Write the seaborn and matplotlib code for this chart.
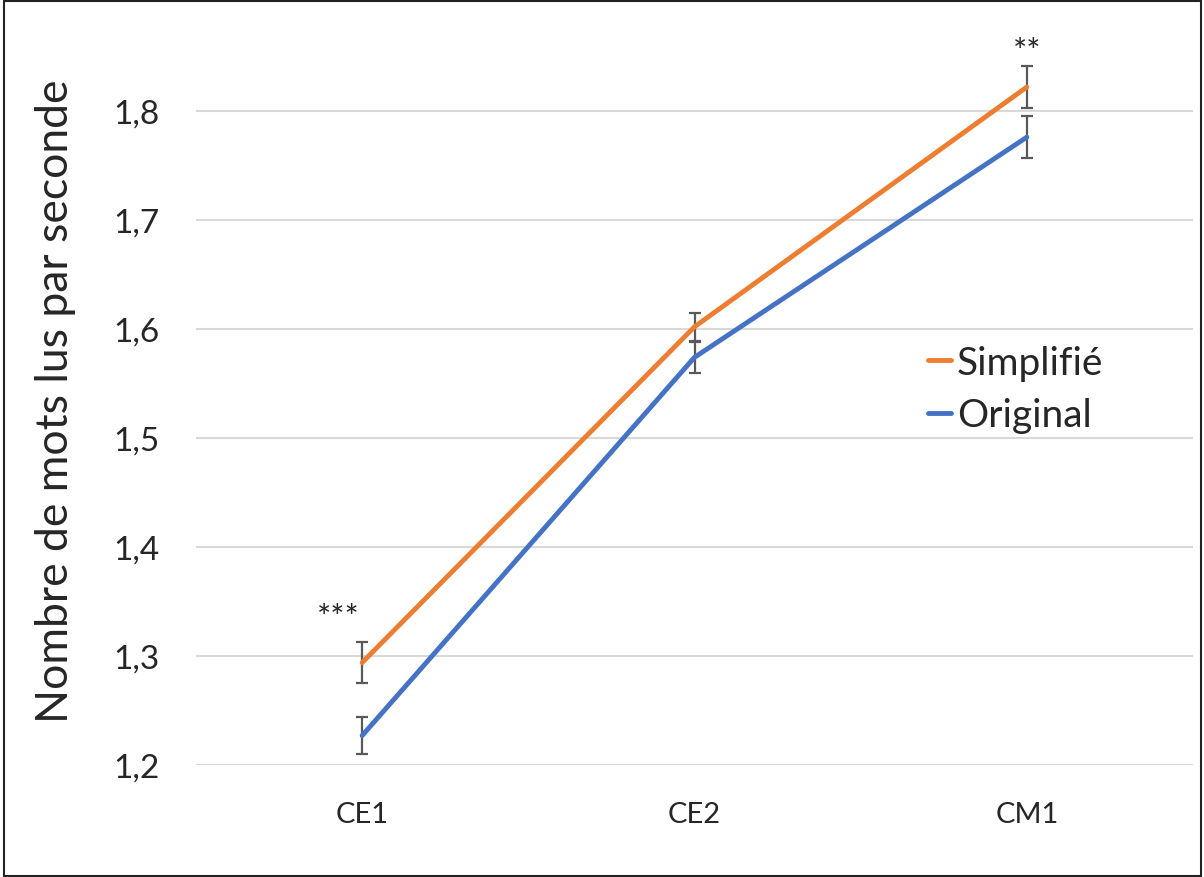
import matplotlib
matplotlib.use("Agg")
import matplotlib.pyplot as plt
import seaborn as sns
import pandas as pd
from matplotlib.patches import Rectangle

categories = ["CE1", "CE2", "CM1"]
simplifie = [1.294, 1.602, 1.822]
original = [1.227, 1.574, 1.776]
simplifie_err = [0.019, 0.013, 0.019]
original_err = [0.017, 0.014, 0.019]
series_names = ["Simplifié", "Original"]
yticks = [1.2, 1.3, 1.4, 1.5, 1.6, 1.7, 1.8]
ytick_labels = ["1,2", "1,3", "1,4", "1,5", "1,6", "1,7", "1,8"]
annotations = [("***", -0.072, 1.335), ("**", 2.0, 1.854)]

sns.set_theme(style="white")
plt.rcParams["font.family"] = ["Lato", "DejaVu Sans"]
plt.rcParams["ytick.major.pad"] = 26
plt.rcParams["xtick.major.pad"] = 26

df = pd.DataFrame({
    "niveau": categories * 2,
    "valeur": simplifie + original,
    "err": simplifie_err + original_err,
    "version": [series_names[0]] * 3 + [series_names[1]] * 3,
})

colors = {"Simplifié": "#ED7D31", "Original": "#4472C4"}

fig = plt.figure(figsize=(12.04, 8.78), dpi=100)
ax = fig.add_axes([196 / 1204, 1 - 766 / 878, (1193 - 196) / 1204, 763 / 878])

sns.lineplot(data=df, x="niveau", y="valeur", hue="version", palette=colors,
             linewidth=3.5, ax=ax, sort=False, legend=True)

for name in series_names:
    sub = df[df["version"] == name]
    xs = [categories.index(c) for c in sub["niveau"]]
    ax.errorbar(xs, sub["valeur"], yerr=sub["err"], fmt="none",
                ecolor="#595959", elinewidth=1.6, capsize=4.5, capthick=1.6, zorder=1)

ax.set_xlim(-0.5, 2.5)
ax.set_ylim(1.2, 1.9)
ax.set_yticks(yticks)
ax.set_yticklabels(ytick_labels)
ax.yaxis.grid(True, color="#D9D9D9", linewidth=1.5)
ax.xaxis.grid(False)
for s in ax.spines.values():
    s.set_visible(False)
ax.tick_params(axis="y", labelsize=24, pad=26, length=0)
ax.tick_params(axis="x", labelsize=21, pad=26, length=0)
ax.set_xlabel("")
ax.set_ylabel("Nombre de mots lus par seconde", fontsize=32)
ax.yaxis.set_label_coords(-(196 - 76) / (1193 - 196), (766 - 401) / 763)

for txt, xi, yi in annotations:
    ax.text(xi, yi, txt, ha="center", va="center", fontsize=24)

leg = ax.legend(loc="upper left", bbox_to_anchor=((928 - 196) / 997, (766 - 346) / 763),
                frameon=False, fontsize=28, handlelength=0.6, handletextpad=0.15,
                labelspacing=0.42, borderaxespad=0, borderpad=0)
for line in leg.get_lines():
    line.set_linewidth(3.5)

fig.add_artist(Rectangle((4 / 1204, 1 / 878), 1197 / 1204, 875 / 878,
                         transform=fig.transFigure, fill=False,
                         edgecolor="#222222", linewidth=1.5))

fig.savefig("out.png", dpi=100)
